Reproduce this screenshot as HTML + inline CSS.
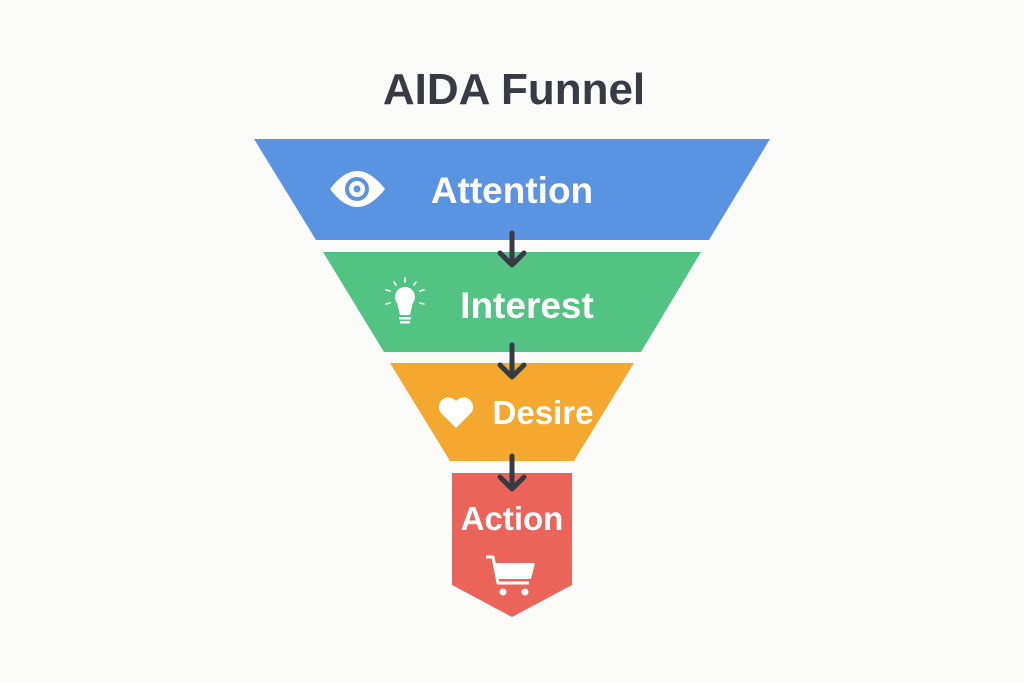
<!DOCTYPE html>
<html><head><style>
body{margin:0;background:#fbfbfa;}
svg{display:block}
text{font-family:"Liberation Sans",sans-serif;font-weight:bold;fill:#fff}
</style></head><body>
<svg width="1024" height="683" viewBox="0 0 1024 683">
<rect width="1024" height="683" fill="#fbfbfa"/>
<text x="514" y="104" text-anchor="middle" font-size="44" style="fill:#383b44">AIDA Funnel</text>
<polygon points="254,139 770,139 709,240 316,240" fill="#5b93e3"/>
<polygon points="323,252 701,252 641,352 384,352" fill="#53c384"/>
<polygon points="390,363 634,363 574,461 450,461" fill="#f5a830"/>
<polygon points="452,473 572,473 572,585 512,617 452,585" fill="#eb6459"/>
<g stroke="#353a44" stroke-width="5" stroke-linecap="round" stroke-linejoin="round" fill="none">
<path d="M512 233V265M500 253L512 265L524 253"/>
<path d="M512 345V377M500 365L512 377L524 365"/>
<path d="M512 456V489M500 477L512 489L524 477"/>
</g>
<!-- eye -->
<path d="M330 189Q357 153 385 189Q357 225 330 189Z" fill="#fff"/>
<circle cx="357" cy="189" r="12" fill="#5b93e3"/>
<circle cx="357" cy="189" r="8" fill="#fff"/>
<circle cx="357" cy="189" r="3.5" fill="#5b93e3"/>
<text x="512" y="203" text-anchor="middle" font-size="37">Attention</text>
<!-- bulb -->
<circle cx="405" cy="297" r="10" fill="#fff"/>
<path d="M397 302L400 315H410L413 302Z" fill="#fff"/>
<rect x="399" y="317" width="12" height="2.5" fill="#fff"/><rect x="400" y="321" width="10" height="2.5" fill="#fff"/>
<g stroke="#fff" stroke-width="1.6" stroke-linecap="round"><path d="M405 278v4M394 282l2 3M416 282l-2 3M386 290l4 1M424 290l-4 1M386 304l4-1M424 304l-4-1"/></g>
<text x="527" y="318" text-anchor="middle" font-size="37">Interest</text>
<!-- heart -->
<path d="M456 428L441 413A9 9 0 0 1 456 401A9 9 0 0 1 471 413Z" fill="#fff"/>
<text x="543" y="424" text-anchor="middle" font-size="33">Desire</text>
<text x="512" y="530" text-anchor="middle" font-size="33">Action</text>
<!-- cart -->
<path d="M486 557H493L498 583H529" stroke="#fff" stroke-width="3" fill="none" stroke-linejoin="round"/>
<path d="M494 563H535L531 579H497Z" fill="#fff"/>
<circle cx="503" cy="592" r="3.5" fill="#fff"/><circle cx="525" cy="592" r="3.5" fill="#fff"/>
</svg>
</body></html>
